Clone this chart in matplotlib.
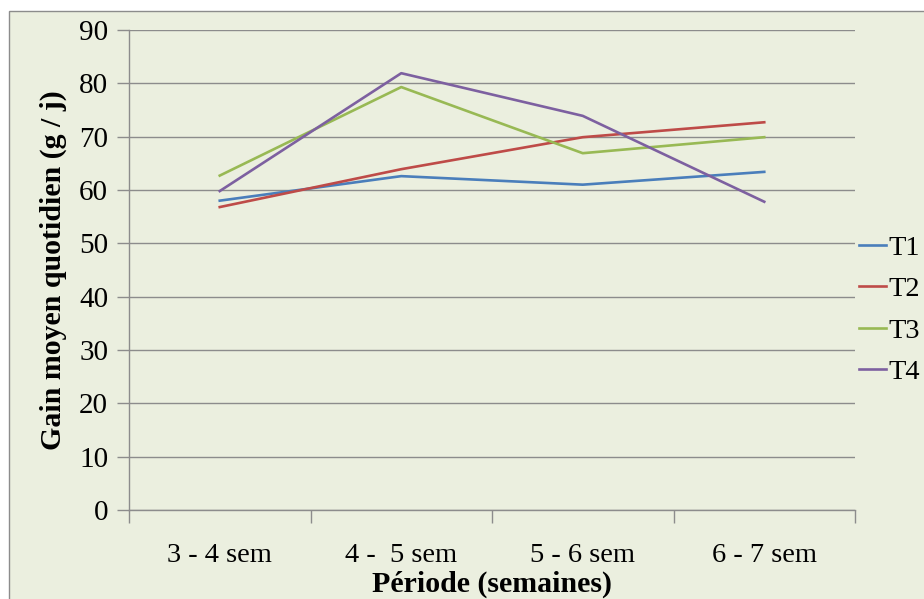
import matplotlib
matplotlib.use("Agg")
import matplotlib.pyplot as plt
from matplotlib.patches import Rectangle

categories = ["3 - 4 sem", "4 -  5 sem", "5 - 6 sem", "6 - 7 sem"]
series_names = ["T1", "T2", "T3", "T4"]
T1 = [58.0, 62.6, 61.0, 63.4]
T2 = [56.8, 63.9, 69.9, 72.7]
T3 = [62.7, 79.3, 66.9, 69.9]
T4 = [59.8, 81.9, 73.9, 57.8]
colors = ["#4A7EBB", "#BE4B48", "#98B954", "#7D60A0"]
yticks = [0, 10, 20, 30, 40, 50, 60, 70, 80, 90]

plt.rcParams['font.family'] = ['Liberation Serif', 'DejaVu Serif']

W, H = 924, 599
fig = plt.figure(figsize=(W / 100, H / 100), dpi=100)
fig.patch.set_facecolor("white")
bg = Rectangle((9 / W, -0.05), 1.1, 1 - 11 / H + 0.05, transform=fig.transFigure,
               facecolor="#EBEFDF", edgecolor="#8C8C8C", linewidth=1.0, zorder=-10)
fig.patches.append(bg)

ax = fig.add_axes([129 / W, 89 / H, (855 - 129) / W, (510 - 30) / H])
ax.set_zorder(5)
ax.set_facecolor("none")

x = list(range(len(categories)))
for name, vals, c in zip(series_names, [T1, T2, T3, T4], colors):
    ax.plot(x, vals, color=c, linewidth=1.9, label=name, zorder=3)

ax.set_xlim(-0.5, len(categories) - 0.5)
ax.set_ylim(0, 90)
ax.set_yticks(yticks)
ax.set_yticklabels([str(v) for v in yticks], fontsize=21)
ax.set_xticks(x)
ax.set_xticklabels(categories, fontsize=20.5)
ax.tick_params(axis='x', which='major', length=0, pad=24)
ax.set_xticks([i - 0.5 for i in range(len(categories) + 1)], minor=True)
ax.tick_params(axis='x', which='minor', length=9, color="#8C8C8C", width=1)
ax.tick_params(axis='y', length=9, color="#8C8C8C", width=1, pad=6)

ax.grid(axis='y', color="#8C8C8C", linewidth=1.0, zorder=1)
for s in ["top", "right"]:
    ax.spines[s].set_visible(False)
for s in ["left", "bottom"]:
    ax.spines[s].set_color("#8C8C8C")
    ax.spines[s].set_linewidth(1.0)

ax.set_ylabel("Gain moyen quotidien (g / j)", fontsize=21.5, fontweight="bold", labelpad=9)
ax.set_xlabel("Période (semaines)", fontsize=21.5, fontweight="bold", labelpad=2)

leg = ax.legend(loc="center left", bbox_to_anchor=(859 / W, 1 - 310 / H), bbox_transform=fig.transFigure,
                frameon=False, fontsize=20.5, handlelength=0.95, handletextpad=0.1,
                labelspacing=0.55, borderaxespad=0, borderpad=0)

fig.savefig("out.png", dpi=100)
